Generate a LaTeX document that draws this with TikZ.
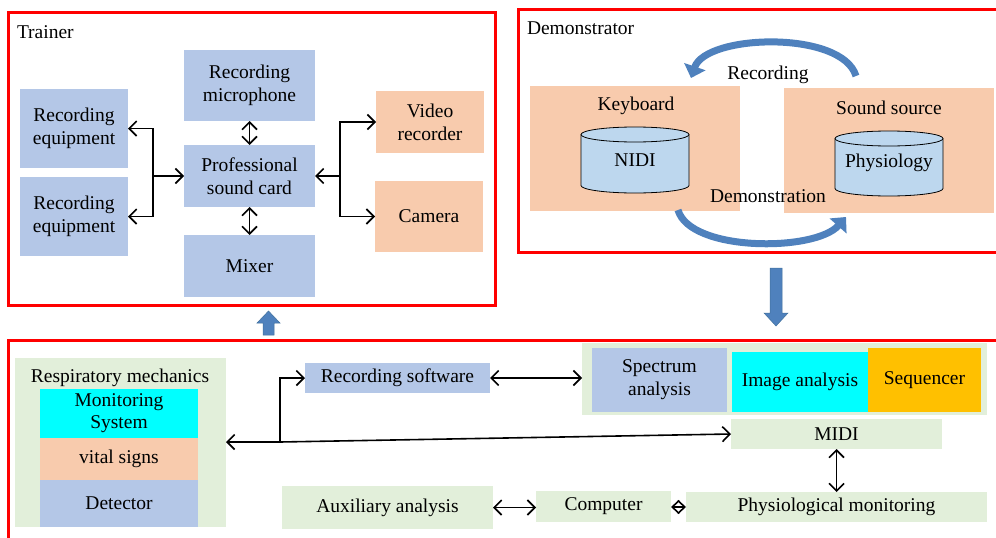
\documentclass[tikz,border=0pt]{standalone}
\usepackage{fontspec}
\setmainfont{Liberation Serif}
\usetikzlibrary{arrows.meta}
\definecolor{bbox}{HTML}{B4C7E7}
\definecolor{obox}{HTML}{F8CBAD}
\definecolor{gbox}{HTML}{E2EFDA}
\definecolor{cbox}{HTML}{00FFFF}
\definecolor{ybox}{HTML}{FFC000}
\definecolor{cyl}{HTML}{BDD7EE}
\definecolor{barrow}{HTML}{4F81BD}
\definecolor{barrowd}{HTML}{41719C}
\definecolor{frame}{HTML}{FF0000}
\newcommand{\fsz}{\fontsize{19.5}{23}\selectfont}
\tikzset{
  bx/.style={inner sep=0pt, outer sep=0pt, anchor=north west, align=center, font=\fsz},
  lbl/.style={inner sep=0pt, outer sep=0pt, font=\fsz},
  redframe/.style={draw=frame, line width=3pt},
  conn/.style={line width=1.6pt},
  >={Straight Barb[length=7.5pt,width=15pt]},
  blockarrow/.style={fill=barrow, draw=barrowd, line width=0.5pt},
  curvarrow/.style={draw=barrow, line width=7pt, -{Triangle[length=12pt,width=22pt]}},
}
\begin{document}
\begin{tikzpicture}[x=1pt,y=-1pt]
\useasboundingbox (0,0) rectangle (996,538);
\clip (0,0) rectangle (996,538);

% ---------- Trainer ----------
\draw[redframe] (8,12) rectangle (495,305);
\node[lbl, anchor=west] (trainer) at (17,32) {Trainer};
\node[bx, fill=bbox, minimum width=108pt, minimum height=79pt] (eq1) at (20,89) {Recording\\equipment};
\node[bx, fill=bbox, minimum width=108pt, minimum height=79pt] (eq2) at (20,177) {Recording\\equipment};
\node[bx, fill=bbox, minimum width=131pt, minimum height=71pt] (mic) at (184,50) {Recording\\microphone};
\node[bx, fill=bbox, minimum width=131pt, minimum height=62pt] (card) at (184,145) {Professional\\sound card};
\node[bx, fill=bbox, minimum width=131pt, minimum height=62pt] (mixer) at (184,235) {Mixer};
\node[bx, fill=obox, minimum width=108pt, minimum height=62pt] (video) at (376,91) {Video\\recorder};
\node[bx, fill=obox, minimum width=108pt, minimum height=71pt] (camera) at (375,181) {Camera};

\coordinate (lj) at (153,176);
\coordinate (rj) at (340,176);
\draw[conn,->] (lj) -- (card.west);
\draw[conn,->] (lj) |- (eq1.east);
\draw[conn,->] (lj) |- (eq2.east);
\draw[conn,->] (rj) -- (card.east);
\draw[conn,->] (rj) |- (video.west);
\draw[conn,->] (rj) |- (camera.west);
\draw[conn,<->] (mic.south) -- (card.north);
\draw[conn,<->] (card.south) -- (mixer.north);

% ---------- Demonstrator ----------
\draw[redframe] (1005,9) -- (518,9) -- (518,252) -- (1005,252);
\node[lbl, anchor=west] (demo) at (527,28) {Demonstrator};
\node[bx, fill=obox, minimum width=210pt, minimum height=125pt] (kbd) at (530,86) {};
\node[bx, fill=obox, minimum width=210pt, minimum height=125pt] (src) at (784,88) {};
\node[lbl] (kbdt) at (636,106) {Keyboard};
\node[lbl] (srct) at (889,108) {Sound source};

% cylinders
\filldraw[fill=cyl, draw=black, line width=0.8pt]
  (581,134.5) -- (581,185.5) arc[start angle=180, end angle=360, x radius=54, y radius=-7.5]
  -- (689,134.5) arc[start angle=0, end angle=180, x radius=54, y radius=-7.5] -- cycle;
\draw[line width=0.8pt] (581,134.5) arc[start angle=180, end angle=360, x radius=54, y radius=-7.5];
\node[lbl] (nidi) at (635,160) {NIDI};
\filldraw[fill=cyl, draw=black, line width=0.8pt]
  (835,138.5) -- (835,188.5) arc[start angle=180, end angle=360, x radius=54, y radius=-7.5]
  -- (943,138.5) arc[start angle=0, end angle=180, x radius=54, y radius=-7.5] -- cycle;
\draw[line width=0.8pt] (835,138.5) arc[start angle=180, end angle=360, x radius=54, y radius=-7.5];
\node[lbl] (phy) at (889,163) {Physiology};

% curved arrows
\draw[curvarrow] (856,76) .. controls (842,30) and (706,34) .. (691,78);
\node[lbl] (rec) at (768,75) {Recording};
\draw[curvarrow] (678,210) .. controls (690,252) and (815,252) .. (846,217);
\node[lbl] (dem) at (768,196) {Demonstration};

% ---------- block arrows ----------
\filldraw[blockarrow] (263,335) -- (263,323) -- (257,323) -- (268.5,311) -- (280,323) -- (274,323) -- (274,335) -- cycle;
\filldraw[blockarrow] (770,268) -- (782,268) -- (782,313) -- (788,313) -- (776,326) -- (764,313) -- (770,313) -- cycle;

% ---------- Bottom ----------
\draw[redframe] (8,545) -- (8,340) -- (1005,340);
\node[bx, fill=gbox, minimum width=211pt, minimum height=169pt] (resp) at (15,358) {};
\node[lbl] (respt) at (120,378) {Respiratory mechanics};
\node[bx, fill=cbox, minimum width=158pt, minimum height=49pt] (mon) at (40,389) {Monitoring\\[-1pt]System};
\node[bx, fill=obox, minimum width=158pt, minimum height=42pt] (vital) at (40,438) {vital signs};
\node[bx, fill=bbox, minimum width=158pt, minimum height=47pt] (det) at (40,480) {Detector};

\node[bx, fill=bbox, minimum width=185pt, minimum height=30pt] (soft) at (305,363) {Recording software};
\node[bx, fill=gbox, minimum width=211pt, minimum height=43pt] (aux) at (282,486) {Auxiliary analysis};

\node[bx, fill=gbox, minimum width=405pt, minimum height=72pt] (grp) at (582,343) {};
\node[bx, fill=bbox, minimum width=135pt, minimum height=64pt] (spec) at (592,348) {Spectrum\\analysis};
\node[bx, fill=cbox, minimum width=136pt, minimum height=60pt] (img) at (732,352) {Image analysis};
\node[bx, fill=ybox, minimum width=113pt, minimum height=64pt] (seq) at (868,348) {Sequencer};

\node[bx, fill=gbox, minimum width=211pt, minimum height=30pt] (midi) at (731,419) {MIDI};
\node[bx, fill=gbox, minimum width=301pt, minimum height=30pt] (phys) at (686,492) {Physiological monitoring};
\node[bx, fill=gbox, minimum width=135pt, minimum height=31pt] (comp) at (536,491) {Computer};

\coordinate (bj) at (280,442);
\draw[conn,<->] (resp.east |- bj) -- (bj) -- (midi.west);
\draw[conn,->] (bj) |- (soft.west);
\draw[conn,<->] (soft.east) -- (grp.west |- soft.east);
\draw[conn,<->] (midi.south) -- (midi.south |- phys.north);
\draw[conn,<->] (aux.east) -- (aux.east -| comp.west);
\coordinate (cm) at (678.5,507);
\draw[conn,-{Straight Barb[length=7pt,width=13pt]}] (cm) -- (comp.east |- cm);
\draw[conn,-{Straight Barb[length=7pt,width=13pt]}] (cm) -- (phys.west |- cm);
\end{tikzpicture}
\end{document}
